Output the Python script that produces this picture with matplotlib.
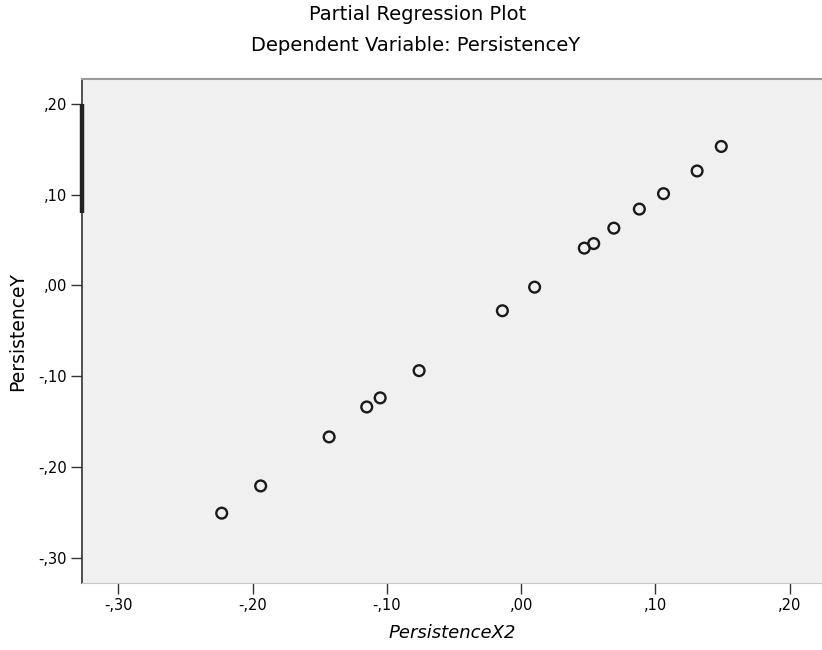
import matplotlib.pyplot as plt

plt.rcParams['font.family'] = ['DejaVu Sans']

# partial residuals: x2 vs y
resid_x2 = [-0.223, -0.194, -0.143, -0.115, -0.105, -0.076, -0.014, 0.010,
            0.047, 0.054, 0.069, 0.088, 0.106, 0.131, 0.149]
resid_y = [-0.251, -0.221, -0.167, -0.134, -0.124, -0.094, -0.028, -0.002,
           0.041, 0.046, 0.063, 0.084, 0.101, 0.126, 0.153]

x_ticks = [-0.3, -0.2, -0.1, 0.0, 0.1, 0.2]
x_ticklabels = ["-,30", "-,20", "-,10", ",00", ",10", ",20"]
y_ticks = [0.2, 0.1, 0.0, -0.1, -0.2, -0.3]
y_ticklabels = [",20", ",10", ",00", "-,10", "-,20", "-,30"]

fig = plt.figure(figsize=(8.22, 6.5), dpi=100)
ax = fig.add_axes([0.0998, 0.103, 0.9002, 0.775])
ax.set_facecolor("#f0f0f0")

ax.scatter(resid_x2, resid_y, s=60, facecolors="none", edgecolors="#1a1a1a",
           linewidths=1.7, zorder=3)

ax.set_xlim(-0.327, 0.224)
ax.set_ylim(-0.328, 0.227)

ax.set_xticks(x_ticks)
ax.set_xticklabels(x_ticklabels, fontsize=10.5)
ax.set_yticks(y_ticks)
ax.set_yticklabels(y_ticklabels, fontsize=10.5)
ax.tick_params(direction="out", length=8, width=1, color="#333333", pad=3)

ax.spines["right"].set_visible(False)
ax.spines["left"].set_color("#333333")
ax.spines["left"].set_linewidth(1.2)
ax.spines["bottom"].set_color("#c8c8c8")
ax.spines["top"].set_color("#9a9a9a")
ax.spines["top"].set_linewidth(1.5)

# heavier stretch of the y axis near the top
ax.plot([-0.327, -0.327], [0.2, 0.08], color="#222222", lw=3.2,
        clip_on=False, zorder=4, solid_capstyle="butt")

ax.set_xlabel("PersistenceX2", fontsize=13, style="italic", labelpad=8)
ax.set_ylabel("PersistenceY", fontsize=13.5, labelpad=8)

fig.text(0.508, 0.977, "Partial Regression Plot", ha="center", va="center", fontsize=14)
fig.text(0.506, 0.93, "Dependent Variable: PersistenceY", ha="center", va="center",
         fontsize=14)

fig.savefig("out.png", dpi=100)
